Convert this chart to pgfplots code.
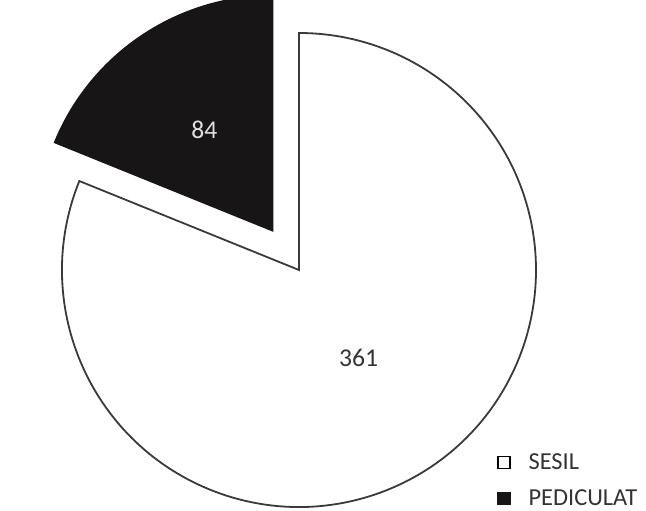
\documentclass[border=0pt]{standalone}
\usepackage{fontspec}
\setmainfont{Carlito}
\usepackage{pgfplots}
\pgfplotsset{compat=1.18}
\usepackage{pgfplotstable}

\definecolor{sliceDark}{HTML}{171515}
\definecolor{rimGrey}{HTML}{3A3A3A}
\definecolor{labelGrey}{HTML}{333333}
\definecolor{labelLight}{HTML}{E2E2E2}

% polyp counts by morphology
\pgfplotstableread{
name value
SESIL 361
PEDICULAT 84
}\piedata

\begin{document}
\begin{tikzpicture}
% slice angles from the counts; the dark slice starts at 12 o'clock
\pgfplotstablegetelem{0}{value}\of\piedata \let\vSesil\pgfplotsretval
\pgfplotstablegetelem{1}{value}\of\piedata \let\vPed\pgfplotsretval
\pgfmathsetmacro\total{\vSesil+\vPed}
\pgfmathsetmacro\angPed{\vPed/\total*360}
\pgfmathsetmacro\endPed{90+\angPed}
\pgfmathsetmacro\midPed{90+\angPed/2}
\pgfmathsetmacro\midSesil{\endPed+(360-\angPed)/2}
\def\rad{118.5pt}
\def\expl{23pt}
\begin{axis}[
  x=0.5pt, y=0.5pt,
  xmin=0, xmax=646, ymin=0, ymax=508,
  hide axis,
  legend image code/.code={\draw[#1, line width=0.6pt] (0pt,-3pt) rectangle (6pt,3pt);},
  legend style={draw=none, fill=none, inner sep=0pt,
    at={(axis cs:497,57)}, anchor=north west,
    font=\fontsize{12.2}{14}\selectfont, text=labelGrey,
    row sep=6.6pt,
    nodes={inner sep=1pt},
    /tikz/every odd column/.append style={column sep=8pt}},
  legend cell align=left,
]
\addlegendimage{draw=black, fill=white}
\addlegendentry{SESIL}
\addlegendimage{draw=sliceDark, fill=sliceDark}
\addlegendentry{PEDICULAT}

\path (axis cs:0,0) rectangle (axis cs:646,508);

% large slice, in place
\filldraw[fill=white, draw=rimGrey, line width=0.9pt, line join=miter]
  (axis cs:299,238) -- ++(\endPed:\rad)
  arc[start angle=\endPed, end angle=450, radius=\rad] -- cycle;
\path (axis cs:299,238) ++(\midSesil:0.45*\rad)
  node[text=labelGrey, font=\fontsize{12.8}{14}\selectfont] {\vSesil};

% small slice, pulled out along its bisector
\fill[sliceDark]
  (axis cs:299,238) ++(\midPed:\expl) -- ++(90:\rad)
  arc[start angle=90, end angle=\endPed, radius=\rad] -- cycle;
\path (axis cs:299,238) ++(\midPed:\expl) ++(\midPed:0.52*\rad)
  node[text=labelLight, font=\fontsize{12.8}{14}\selectfont] {\vPed};
\end{axis}
\end{tikzpicture}
\end{document}
